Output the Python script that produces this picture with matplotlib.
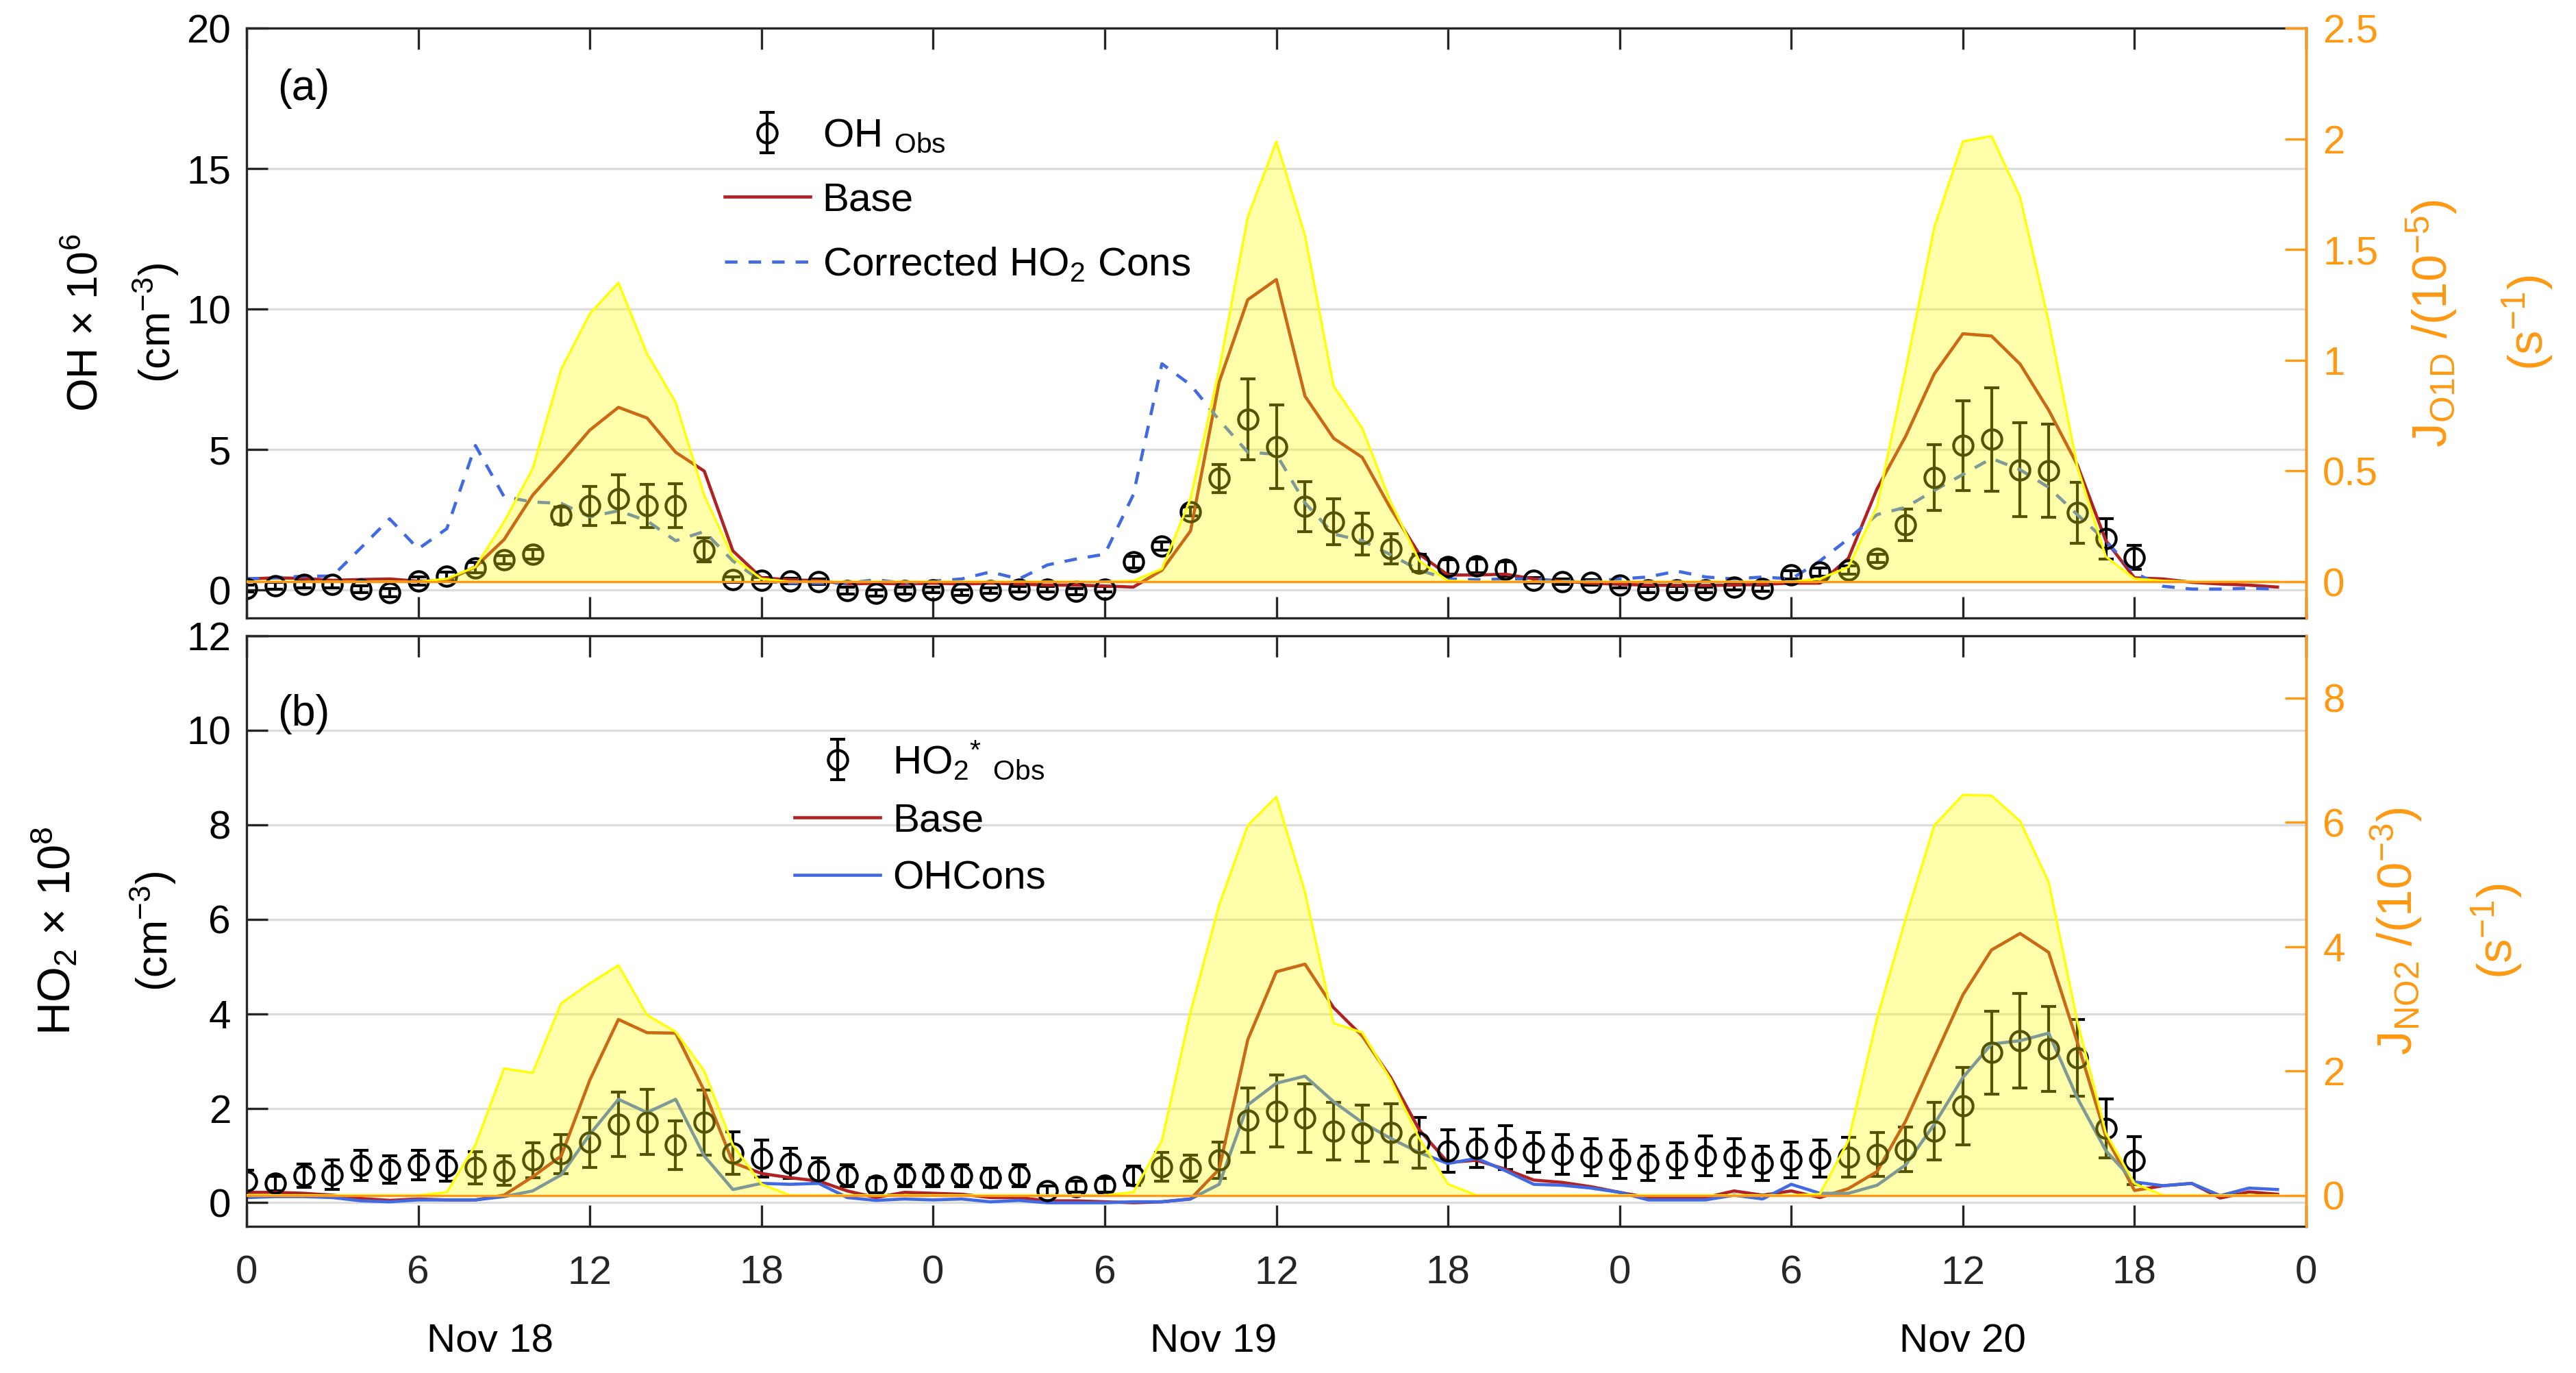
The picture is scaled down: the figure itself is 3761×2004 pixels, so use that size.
import numpy as np
import matplotlib
matplotlib.use("Agg")
import matplotlib.pyplot as plt

plt.rcParams['font.family'] = ['Liberation Sans', 'DejaVu Sans']
plt.rcParams['mathtext.fontset'] = 'custom'
plt.rcParams['mathtext.rm'] = 'Liberation Sans'
plt.rcParams['mathtext.it'] = 'Liberation Sans:italic'
plt.rcParams['mathtext.bf'] = 'Liberation Sans:bold'

# ---------------- data ----------------
hours_model = np.arange(72)            # hours since Nov 18 00:00
hours_obs = np.arange(67)

oh_obs = [0.05, 0.14, 0.2, 0.2, 0.03, -0.09, 0.31, 0.49, 0.79, 1.07, 1.27, 2.65, 2.99, 3.25, 2.99, 3.0,
          1.42, 0.37, 0.34, 0.31, 0.29, -0.03, -0.11, -0.03, 0.0, -0.09, -0.03, 0.03, 0.03, -0.06, 0.03,
          0.99, 1.56, 2.79, 3.97, 6.07, 5.1, 2.97, 2.42, 1.99, 1.46, 0.96, 0.82, 0.85, 0.74, 0.34, 0.29,
          0.26, 0.17, 0.01, 0.01, 0.0, 0.09, 0.06, 0.53, 0.63, 0.7, 1.13, 2.32, 4.0, 5.14, 5.36, 4.28,
          4.25, 2.75, 1.82, 1.15]
oh_err = [0.12, 0.12, 0.12, 0.12, 0.12, 0.15, 0.15, 0.15, 0.18, 0.15, 0.18, 0.3, 0.69, 0.86, 0.77, 0.77,
          0.43, 0.1, 0.1, 0.1, 0.1, 0.12, 0.12, 0.12, 0.1, 0.1, 0.1, 0.1, 0.1, 0.1, 0.1,
          0.2, 0.15, 0.15, 0.5, 1.44, 1.48, 0.89, 0.82, 0.74, 0.53, 0.3, 0.25, 0.25, 0.25, 0.1, 0.1,
          0.1, 0.1, 0.1, 0.1, 0.1, 0.1, 0.1, 0.15, 0.15, 0.15, 0.15, 0.56, 1.18, 1.6, 1.84, 1.67,
          1.66, 1.09, 0.72, 0.43]
oh_base = [0.39, 0.43, 0.41, 0.34, 0.37, 0.39, 0.31, 0.34, 0.82, 1.79, 3.37, 4.51, 5.69, 6.5, 6.12, 4.9,
           4.23, 1.39, 0.43, 0.36, 0.33, 0.21, 0.24, 0.21, 0.24, 0.21, 0.24, 0.21, 0.17, 0.17, 0.14,
           0.1, 0.7, 2.1, 7.4, 10.33, 11.05, 6.9, 5.4, 4.72, 2.89, 1.27, 0.53, 0.53, 0.56, 0.39, 0.31,
           0.24, 0.2, 0.17, 0.16, 0.16, 0.17, 0.2, 0.24, 0.24, 1.13, 3.6, 5.47, 7.69, 9.12, 9.04, 8.04,
           6.4, 4.45, 1.75, 0.43, 0.39, 0.27, 0.21, 0.17, 0.1]
oh_corr_ho2 = [0.39, 0.43, 0.49, 0.49, 1.5, 2.53, 1.46, 2.18, 5.14, 3.32, 3.13, 3.08, 2.6, 2.82, 2.46, 1.75,
               2.08, 1.03, 0.31, 0.24, 0.24, 0.24, 0.36, 0.24, 0.31, 0.39, 0.64, 0.39, 0.89, 1.1, 1.27,
               3.39, 8.05, 7.3, 6.05, 4.9, 4.83, 3.1, 1.99, 1.75, 1.25, 0.7, 0.39, 0.36, 0.39, 0.39, 0.31,
               0.31, 0.39, 0.46, 0.67, 0.46, 0.39, 0.46, 0.39, 1.03, 1.82, 2.68, 2.94, 3.54, 4.11, 4.68, 4.28,
               3.65, 2.68, 1.75, 0.6, 0.13, 0.03, 0.03, 0.06, 0.03]
j_o1d = [0.0, 0.0, 0.0, 0.0, 0.0, 0.0, 0.0, 0.013, 0.067, 0.27, 0.51, 0.96, 1.21, 1.35, 1.03, 0.81,
         0.39, 0.11, 0.013, 0.0, 0.0, 0.0, 0.0, 0.0, 0.0, 0.0, 0.0, 0.0, 0.0, 0.0, 0.0,
         0.004, 0.058, 0.376, 0.957, 1.647, 1.988, 1.565, 0.884, 0.694, 0.358, 0.094, 0.004, 0.0, 0.0, 0.0, 0.0,
         0.0, 0.0, 0.0, 0.0, 0.0, 0.0, 0.0, 0.0, 0.013, 0.067, 0.34, 0.957, 1.6, 1.988, 2.013, 1.737,
         1.175, 0.52, 0.113, 0.013, 0.004, 0.0, 0.0, 0.0, 0.0]

ho2_obs = [0.46, 0.41, 0.57, 0.59, 0.79, 0.71, 0.8, 0.78, 0.74, 0.68, 0.9, 1.03, 1.28, 1.66, 1.71, 1.22,
           1.7, 1.05, 0.94, 0.83, 0.68, 0.57, 0.37, 0.57, 0.57, 0.57, 0.53, 0.57, 0.25, 0.34, 0.37,
           0.57, 0.76, 0.73, 0.9, 1.75, 1.94, 1.79, 1.52, 1.47, 1.48, 1.27, 1.1, 1.15, 1.17, 1.06, 1.02,
           0.96, 0.92, 0.83, 0.9, 0.99, 0.96, 0.83, 0.91, 0.94, 0.96, 1.02, 1.13, 1.51, 2.05, 3.18, 3.43,
           3.25, 3.07, 1.57, 0.89]
ho2_err = [0.23, 0.15, 0.25, 0.31, 0.32, 0.29, 0.31, 0.32, 0.34, 0.31, 0.37, 0.42, 0.53, 0.68, 0.69, 0.52,
           0.69, 0.45, 0.39, 0.32, 0.27, 0.23, 0.16, 0.23, 0.23, 0.23, 0.2, 0.23, 0.1, 0.12, 0.15,
           0.2, 0.3, 0.28, 0.38, 0.68, 0.76, 0.72, 0.61, 0.59, 0.61, 0.54, 0.45, 0.41, 0.46, 0.42, 0.42,
           0.39, 0.4, 0.36, 0.37, 0.42, 0.39, 0.36, 0.38, 0.39, 0.42, 0.46, 0.47, 0.61, 0.82, 0.88, 1.0,
           0.9, 0.81, 0.62, 0.51]
ho2_base = [0.22, 0.22, 0.2, 0.16, 0.09, 0.05, 0.08, 0.06, 0.06, 0.16, 0.55, 0.99, 2.6, 3.88, 3.6, 3.59,
            2.37, 0.85, 0.62, 0.53, 0.46, 0.25, 0.11, 0.22, 0.2, 0.18, 0.11, 0.11, 0.04, 0.04, 0.02,
            0.0, 0.02, 0.08, 0.71, 3.45, 4.89, 5.05, 4.13, 3.53, 2.65, 1.54, 0.85, 0.9, 0.71, 0.48, 0.43,
            0.34, 0.22, 0.11, 0.11, 0.11, 0.25, 0.16, 0.25, 0.11, 0.3, 0.66, 1.73, 3.07, 4.4, 5.35, 5.7,
            5.3, 3.4, 1.4, 0.26, 0.36, 0.41, 0.1, 0.23, 0.18]
ho2_ohcons = [0.11, 0.13, 0.13, 0.11, 0.04, 0.02, 0.06, 0.06, 0.06, 0.13, 0.25, 0.59, 1.45, 2.19, 1.91, 2.19,
              0.99, 0.28, 0.41, 0.39, 0.41, 0.11, 0.05, 0.08, 0.06, 0.08, 0.02, 0.05, 0.0, 0.0, 0.0,
              0.02, 0.02, 0.08, 0.39, 2.07, 2.53, 2.68, 2.14, 1.7, 1.36, 1.06, 0.83, 0.94, 0.68, 0.39, 0.37,
              0.31, 0.22, 0.06, 0.06, 0.06, 0.16, 0.08, 0.39, 0.2, 0.2, 0.37, 0.8, 1.66, 2.65, 3.36, 3.43,
              3.59, 2.22, 1.1, 0.44, 0.36, 0.41, 0.15, 0.31, 0.28]
j_no2 = [0.0, 0.0, 0.0, 0.0, 0.0, 0.0, 0.0, 0.05, 0.81, 2.04, 1.97, 3.09, 3.41, 3.7, 2.9, 2.63,
         2.0, 0.81, 0.18, 0.0, 0.0, 0.0, 0.0, 0.0, 0.0, 0.0, 0.0, 0.0, 0.0, 0.0, 0.0,
         0.05, 0.88, 2.95, 4.67, 5.95, 6.41, 4.88, 2.77, 2.62, 1.86, 0.91, 0.18, 0.0, 0.0, 0.0, 0.0,
         0.0, 0.0, 0.0, 0.0, 0.0, 0.0, 0.0, 0.0, 0.02, 0.88, 2.85, 4.45, 5.95, 6.44, 6.43, 6.02,
         5.04, 2.8, 1.0, 0.19, 0.0, 0.0, 0.0, 0.0, 0.0]

xtick_pos = np.arange(0, 73, 6)
xtick_labels = ['0', '6', '12', '18', '0', '6', '12', '18', '0', '6', '12', '18', '0']
date_labels = ['Nov 18', 'Nov 19', 'Nov 20']
date_pos = [8.5, 33.8, 60.0]

# ---------------- style ----------------
RED = '#B22222'
BLUE = '#4169E1'
ORANGE = '#FF9912'
YELLOW = '#FFFF00'
AXC = '#262626'
FS = 14

fig = plt.figure(figsize=(12.54, 6.68), dpi=300)
ax1 = fig.add_axes([0.0957, 0.5499, 0.7993, 0.4296])
ax2 = fig.add_axes([0.0957, 0.1068, 0.7993, 0.4301])


def style_left(ax, ylim, yticks):
    ax.set_xlim(0, 72)
    ax.set_ylim(*ylim)
    ax.set_yticks(yticks)
    ax.set_xticks(xtick_pos)
    ax.yaxis.grid(True, color='#DCDCDC', linewidth=0.8)
    ax.set_axisbelow(True)
    ax.tick_params(axis='both', direction='in', length=7.4, width=0.8, colors=AXC,
                   labelsize=FS, top=True, labelcolor='black')
    ax.tick_params(axis='x', pad=10, labelcolor=AXC)
    ax.tick_params(axis='y', pad=5.5)
    for s in ax.spines.values():
        s.set_color(AXC)
        s.set_linewidth(0.8)


def style_right(axr, ylim, yticks):
    axr.set_ylim(*ylim)
    axr.set_yticks(yticks)
    axr.tick_params(axis='y', direction='in', length=7.4, width=0.8, colors=ORANGE,
                    labelsize=FS, pad=5.8)
    axr.spines['right'].set_color(ORANGE)
    axr.spines['right'].set_linewidth(0.8)
    for k in ('left', 'top', 'bottom'):
        axr.spines[k].set_visible(False)


# ---------------- panel (a) ----------------
style_left(ax1, (-1, 20), [0, 5, 10, 15, 20])
ax1.set_xticklabels([])
h_obs1 = ax1.errorbar(hours_obs, oh_obs, yerr=oh_err, fmt='o', mfc='none', mec='black', ms=6.8,
                      mew=1.0, ecolor='black', elinewidth=1.0, capsize=2.6, capthick=1.0)
h_base1, = ax1.plot(hours_model, oh_base, color=RED, lw=1.1)
h_corr, = ax1.plot(hours_model, oh_corr_ho2, color=BLUE, lw=1.1, ls=(0, (4, 3.5)))

ax1r = ax1.twinx()
ax1r.set_position(ax1.get_position())
style_right(ax1r, (-0.164, 2.5), [0, 0.5, 1, 1.5, 2, 2.5])
ax1r.set_yticklabels(['0', '0.5', '1', '1.5', '2', '2.5'])
ax1r.fill_between(hours_model, 0, j_o1d, color=YELLOW, alpha=0.33, lw=0)
ax1r.plot(hours_model, j_o1d, color=YELLOW, lw=0.8)
ax1r.axhline(0, color=ORANGE, lw=0.8)

ax1.text(0.015, 0.897, '(a)', transform=ax1.transAxes, fontsize=15, va='center', ha='left')
leg1 = ax1r.legend([h_obs1, h_base1, h_corr],
                   ['OH $_{\\mathrm{Obs}}$', 'Base', 'Corrected HO$_2$ Cons'],
                   loc='upper left', bbox_to_anchor=(0.232, 0.848), frameon=False, fontsize=FS,
                   handlelength=2.15, handletextpad=0.3, labelspacing=0.68, borderpad=0,
                   borderaxespad=0)

ax1.text(-0.0778, 0.5, 'OH × 10$^{6}$', transform=ax1.transAxes, rotation=90,
         fontsize=15, ha='center', va='center')
ax1.text(-0.0439, 0.5, '(cm$^{-3}$)', transform=ax1.transAxes, rotation=90,
         fontsize=15, ha='center', va='center')
ax1.text(1.0612, 0.5, 'J$_{\\mathrm{O1D}}$ /(10$^{-5}$)', transform=ax1.transAxes, rotation=90,
         fontsize=17, ha='center', va='center', color=ORANGE)
ax1.text(1.1075, 0.5, '(s$^{-1}$)', transform=ax1.transAxes, rotation=90,
         fontsize=17, ha='center', va='center', color=ORANGE)

# ---------------- panel (b) ----------------
style_left(ax2, (-0.5, 12), [0, 2, 4, 6, 8, 10, 12])
ax2.set_xticklabels(xtick_labels)
h_obs2 = ax2.errorbar(hours_obs, ho2_obs, yerr=ho2_err, fmt='o', mfc='none', mec='black', ms=6.8,
                      mew=1.0, ecolor='black', elinewidth=1.0, capsize=2.6, capthick=1.0)
h_base2, = ax2.plot(hours_model, ho2_base, color=RED, lw=1.1)
h_ohc, = ax2.plot(hours_model, ho2_ohcons, color=BLUE, lw=1.1)

ax2r = ax2.twinx()
ax2r.set_position(ax2.get_position())
style_right(ax2r, (-0.5, 9), [0, 2, 4, 6, 8])
ax2r.fill_between(hours_model, 0, j_no2, color=YELLOW, alpha=0.33, lw=0)
ax2r.plot(hours_model, j_no2, color=YELLOW, lw=0.8)
ax2r.axhline(0, color=ORANGE, lw=0.8)

ax2.text(0.015, 0.867, '(b)', transform=ax2.transAxes, fontsize=15, va='center', ha='left')
leg2 = ax2r.legend([h_obs2, h_base2, h_ohc],
                   ['HO$_2$$^{*}$ $_{\\mathrm{Obs}}$', 'Base', 'OHCons'],
                   loc='upper left', bbox_to_anchor=(0.266, 0.824), frameon=False, fontsize=FS,
                   handlelength=2.15, handletextpad=0.3, labelspacing=0.52, borderpad=0,
                   borderaxespad=0)

ax2.text(-0.0928, 0.5, 'HO$_2$ × 10$^{8}$', transform=ax2.transAxes, rotation=90,
         fontsize=16, ha='center', va='center')
ax2.text(-0.0452, 0.5, '(cm$^{-3}$)', transform=ax2.transAxes, rotation=90,
         fontsize=15, ha='center', va='center')
ax2.text(1.0439, 0.5, 'J$_{\\mathrm{NO2}}$ /(10$^{-3}$)', transform=ax2.transAxes, rotation=90,
         fontsize=17, ha='center', va='center', color=ORANGE)
ax2.text(1.0928, 0.5, '(s$^{-1}$)', transform=ax2.transAxes, rotation=90,
         fontsize=17, ha='center', va='center', color=ORANGE)

for d, x in zip(date_labels, date_pos):
    ax2.text(x, -0.195, d, transform=ax2.get_xaxis_transform(), fontsize=FS,
             ha='center', va='center', color='black')

fig.savefig('out.png', dpi=300)
